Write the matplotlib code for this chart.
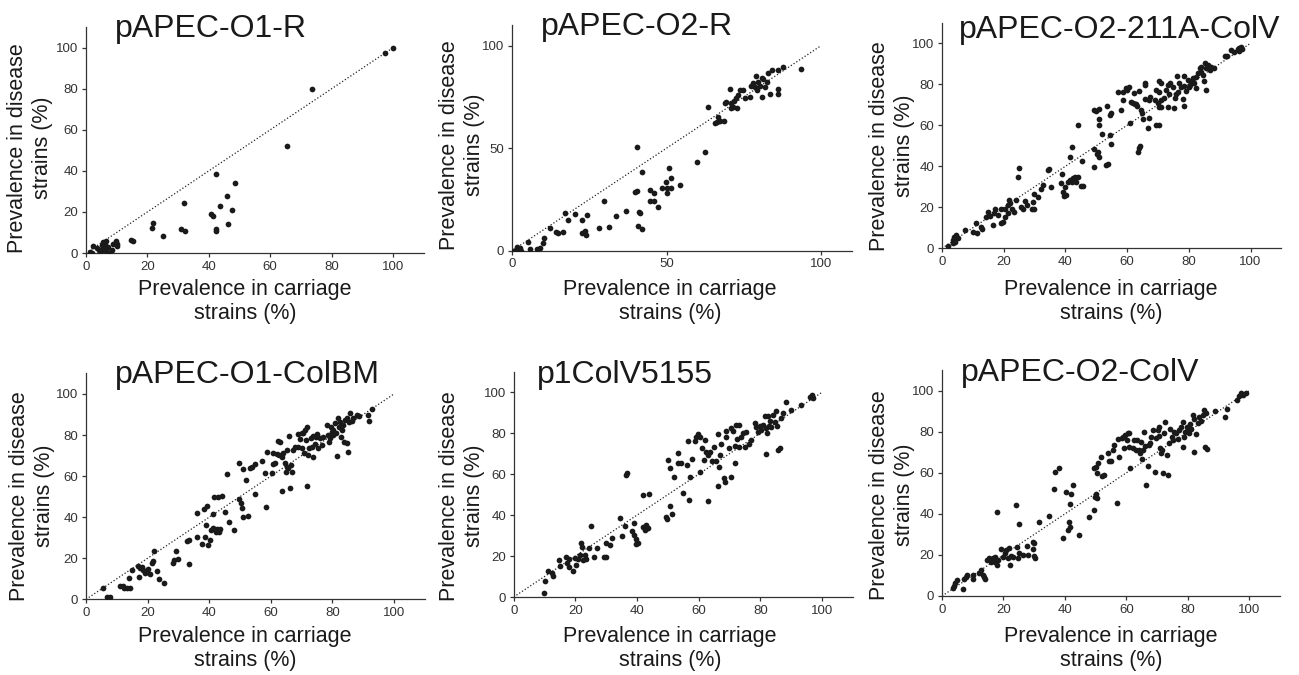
import numpy as np
import matplotlib
matplotlib.use("Agg")
import matplotlib.pyplot as plt

plt.rcParams['font.family'] = ['Liberation Sans', 'DejaVu Sans']

# (prevalence in carriage strains %, prevalence in disease strains %)
o1_r = [
    (100, 100), (97.3, 97.2), (73.6, 80), (65.5, 52), (42.3, 38.5), (31.9, 24.4),
    (48.5, 34.1), (46.0, 27.6), (43.8, 23.1), (47.6, 21.1), (40.7, 18.9), (41.4, 18.0),
    (42.3, 11.9), (42.3, 10.7), (46.4, 14.3), (31.1, 11.7), (32.4, 10.7), (21.9, 14.6),
    (21.6, 12.2), (25.2, 8.3), (14.5, 6.2), (15.4, 5.9), (1.3, 0.5), (2.4, 3.3),
    (3.5, 2.6), (1.8, 0), (4.3, 1.6), (5.1, 3.7), (5.6, 5.4), (6.5, 5.9), (5.9, 1.3),
    (6.7, 0.5), (7.6, 0), (8.4, 1.6), (8.9, 4.6), (9.8, 5.9), (10.0, 3.3), (10.2, 4.2),
    (4.6, 0.5), (5.4, 2.9), (7.3, 2.9), (6.2, 3.7),
]

o2_r = [
    (93.5, 88.6), (87.6, 89.6), (86.2, 88.0), (84.3, 88.1), (82.9, 86.5), (78.9, 85.2),
    (80.8, 84.4), (81.3, 83.6), (79.7, 82.4), (78.1, 81.6), (77.5, 80.3), (78.6, 79.7),
    (80.2, 80.3), (82.4, 82.4), (81.9, 79.7), (79.2, 78.4), (86.2, 78.7), (86.2, 76.4),
    (83.5, 76.3), (80.8, 75.0), (77.0, 75.0), (75.4, 74.3), (73.8, 78.4), (74.8, 78.4),
    (70.5, 78.7), (73.2, 75.9), (72.6, 74.3), (72.0, 73.2), (69.4, 72.7), (68.9, 72.2),
    (71.0, 71.9), (71.6, 70.2), (72.9, 69.4), (71.0, 69.4), (63.3, 70.2), (66.7, 65.4),
    (66.2, 62.9), (65.6, 62.4), (67.3, 63.4), (68.7, 63.3), (62.4, 48.0), (60.0, 43.3),
    (40.6, 50.7), (42.2, 38.4), (50.9, 40.5), (51.3, 35.3), (49.7, 33.7), (54.5, 32.2),
    (50.3, 30.4), (51.6, 30.4), (48.4, 30.4), (50.0, 28.3), (44.6, 29.6), (45.9, 28.0),
    (39.7, 28.5), (40.6, 28.9), (44.6, 24.1), (46.0, 24.1), (47.1, 21.1), (36.8, 19.3),
    (33.5, 16.9), (41.0, 18.9), (41.4, 18.2), (31.4, 11.7), (28.1, 11.2), (40.8, 12.2),
    (42.2, 10.7), (29.7, 24.1), (17.3, 18.2), (18.1, 15.0), (20.5, 17.7), (22.5, 15.0),
    (24.3, 17.4), (12.2, 10.9), (14.4, 8.9), (14.9, 8.5), (16.5, 8.9), (22.5, 8.5),
    (23.6, 9.6), (23.9, 7.6), (10.4, 6.0), (10.0, 3.6), (5.2, 4.4), (5.9, 0.8),
    (8.1, 0.7), (9.0, 1.5), (0.3, 0), (1.2, 0.3), (1.9, 0.7), (2.5, 1.1), (3.0, 0),
    (1.6, 2.0),
]

o2_211a_colv = [
    (1.8, 1.3), (3.7, 4.1), (4.0, 5.4), (4.5, 6.5), (5.1, 4.9), (3.7, 2.8), (4.3, 3.3),
    (7.6, 8.9), (9.9, 7.8), (11.0, 12.5), (11.2, 7.3), (12.6, 10.6), (12.9, 9.4),
    (14.3, 15.4), (14.8, 17.9), (15.4, 15.8), (16.4, 11.5), (17.0, 17.1), (17.3, 19.2),
    (18.1, 16.3), (19.1, 19.0), (19.1, 12.5), (19.9, 13.0), (20.5, 19.0), (20.5, 15.4),
    (21.3, 17.1), (21.3, 21.1), (21.8, 23.6), (22.2, 22.3), (22.7, 19.0), (23.5, 17.9),
    (24.9, 39.0), (24.5, 34.6), (24.0, 23.6), (25.6, 20.3), (26.2, 19.0), (27.0, 23.1),
    (27.6, 21.1), (29.1, 19.0), (29.7, 19.0), (29.4, 22.8), (29.7, 26.3), (31.0, 25.2),
    (32.1, 28.8), (32.9, 30.9), (34.3, 38.2), (34.8, 38.5), (35.4, 29.8), (38.9, 36.3),
    (38.6, 32.0), (39.3, 27.6), (39.7, 25.5), (40.2, 26.0), (40.0, 30.1), (40.8, 32.5),
    (41.5, 33.3), (42.2, 32.5), (43.0, 34.6), (42.4, 34.1), (43.5, 32.5), (44.2, 35.0),
    (45.1, 30.6), (45.8, 30.6), (41.6, 44.7), (42.0, 49.6), (44.0, 60.2), (45.4, 42.8),
    (49.4, 39.5), (49.4, 48.3), (50.3, 46.0), (50.8, 44.4), (50.5, 47.2), (49.4, 67.5),
    (49.9, 67.0), (51.0, 62.9), (51.0, 60.2), (50.8, 67.8), (51.9, 55.8), (53.2, 40.7),
    (53.9, 41.0), (53.4, 69.6), (54.3, 65.0), (54.8, 65.9), (54.5, 55.3), (54.8, 50.9),
    (57.0, 76.4), (58.1, 67.5), (58.6, 76.4), (58.8, 72.4), (59.5, 78.0), (59.9, 77.2),
    (60.5, 78.9), (60.8, 61.3), (61.3, 71.5), (61.8, 70.9), (62.4, 70.2), (62.9, 70.6),
    (63.1, 69.6), (62.2, 75.6), (63.8, 76.8), (63.5, 47.2), (64.0, 48.8), (64.3, 49.9),
    (64.5, 67.5), (64.9, 65.9), (65.7, 72.7), (65.9, 79.7), (65.9, 80.8), (65.1, 62.9),
    (66.7, 58.5), (67.0, 63.4), (67.0, 72.4), (67.5, 73.7), (68.9, 72.4), (69.4, 77.2),
    (70.0, 70.7), (70.5, 69.1), (69.4, 60.2), (70.5, 60.2), (70.5, 76.4), (70.5, 81.8),
    (71.0, 80.8), (71.0, 72.4), (71.0, 68.8), (72.1, 73.2), (72.6, 77.2), (73.2, 79.7),
    (73.7, 75.1), (73.2, 69.1), (74.0, 80.5), (74.8, 78.5), (75.1, 68.3), (75.4, 73.2),
    (75.9, 75.3), (76.2, 83.9), (76.5, 76.4), (76.8, 80.5), (77.5, 78.5), (78.1, 72.7),
    (78.3, 83.9), (78.6, 79.2), (79.1, 76.8), (79.7, 82.1), (80.0, 78.5), (80.4, 79.7),
    (80.8, 81.3), (81.3, 82.9), (81.8, 80.5), (82.2, 78.0), (78.6, 69.6), (81.3, 81.3),
    (82.4, 83.7), (82.9, 85.4), (83.5, 87.8), (84.0, 86.2), (84.5, 84.6), (84.8, 81.8),
    (85.1, 90.2), (85.6, 87.8), (86.2, 89.4), (86.8, 87.0), (87.2, 88.6), (88.3, 87.8),
    (84.0, 88.6), (91.6, 93.8), (92.3, 93.8), (93.7, 96.7), (94.8, 95.9), (95.9, 97.1),
    (96.4, 97.6), (97.0, 98.4), (96.2, 96.3), (97.3, 97.1), (85.6, 77.2),
]

o1_colbm = [
    (5.4, 5.5), (6.9, 1.3), (7.8, 1.3), (7.6, 0.8), (11.0, 6.7), (11.9, 6.5), (12.3, 5.4),
    (13.2, 5.4), (14.1, 10.2), (14.3, 5.4), (14.8, 14.3), (16.8, 16.2), (17.5, 15.1),
    (17.3, 11.0), (18.1, 15.6), (18.6, 14.3), (19.2, 12.7), (19.7, 13.5), (20.2, 14.6),
    (20.8, 12.2), (21.3, 17.9), (21.6, 18.8), (22.1, 23.7), (22.9, 13.8), (23.8, 9.7),
    (25.3, 8.1), (28.1, 17.9), (28.7, 19.2), (29.1, 23.5), (30.0, 19.5), (32.7, 28.4),
    (33.3, 28.9), (33.5, 17.2), (35.9, 30.5), (36.1, 41.9), (37.6, 26.9), (38.3, 44.2),
    (38.6, 30.2), (39.0, 36.2), (39.2, 45.5), (39.7, 26.5), (40.3, 28.9), (40.5, 33.8),
    (41.1, 41.6), (41.3, 34.6), (41.7, 50.0), (42.2, 33.0), (42.4, 34.3), (43.0, 50.0),
    (43.3, 33.0), (44.0, 50.5), (43.5, 34.3), (45.1, 42.7), (45.7, 60.9), (46.5, 37.8),
    (48.1, 33.8), (49.8, 66.6), (49.8, 48.7), (50.2, 47.1), (50.5, 44.6), (50.9, 63.3),
    (50.9, 40.3), (51.9, 58.1), (52.7, 40.6), (53.2, 63.8), (53.8, 64.6), (54.9, 65.9),
    (54.9, 51.1), (57.0, 67.5), (58.1, 61.7), (58.5, 45.1), (58.7, 71.6), (60.3, 61.4),
    (60.6, 65.7), (61.4, 66.6), (60.8, 71.1), (61.9, 70.6), (62.4, 77.1), (62.8, 70.1),
    (63.0, 76.5), (63.5, 69.2), (63.5, 52.8), (64.1, 71.1), (64.6, 66.6), (64.9, 62.2),
    (65.2, 64.6), (65.4, 72.7), (65.7, 63.8), (66.0, 79.5), (66.2, 54.4), (66.5, 65.4),
    (66.8, 62.2), (67.3, 72.7), (67.9, 74.4), (68.7, 74.4), (68.9, 80.5), (69.5, 77.9),
    (70.0, 81.2), (70.0, 73.5), (70.6, 80.8), (70.8, 71.1), (71.1, 82.6), (71.6, 55.4),
    (71.4, 77.6), (71.9, 83.8), (72.2, 70.3), (72.5, 73.5), (72.9, 78.4), (73.3, 74.4),
    (73.6, 69.2), (73.8, 79.5), (74.4, 75.8), (74.7, 79.2), (75.1, 80.5), (75.4, 73.5),
    (76.0, 78.4), (76.5, 75.2), (76.8, 79.2), (78.1, 84.9), (78.7, 80.0), (79.0, 76.8),
    (79.2, 78.4), (79.5, 83.8), (79.8, 81.7), (80.1, 80.0), (80.3, 82.5), (80.8, 85.7),
    (81.2, 80.8), (81.6, 69.8), (81.9, 88.1), (82.3, 84.1), (82.5, 86.5), (82.7, 79.2),
    (83.0, 82.5), (83.3, 84.9), (83.8, 76.8), (84.1, 87.3), (84.6, 88.1), (84.9, 76.0),
    (85.2, 71.9), (85.5, 86.5), (85.7, 90.9), (86.3, 87.0), (86.8, 88.1), (88.1, 89.7),
    (88.7, 89.3), (91.6, 89.7), (91.9, 87.0), (92.7, 92.5),
]

p1colv5155 = [
    (9.7, 1.8), (10.1, 8.0), (11.1, 12.7), (12.5, 11.6), (12.8, 10.3), (14.7, 18.1),
    (14.9, 15.3), (16.9, 19.7), (17.3, 16.8), (18.0, 14.8), (18.0, 18.4), (19.2, 12.7),
    (19.8, 18.9), (20.1, 15.5), (20.9, 18.4), (21.4, 20.5), (21.9, 26.2), (22.3, 24.3),
    (22.5, 18.1), (23.0, 20.5), (23.4, 18.4), (24.4, 23.8), (25.2, 34.9), (26.2, 19.7),
    (27.0, 23.8), (29.2, 19.4), (29.8, 19.7), (29.8, 26.5), (31.1, 25.4), (32.0, 29.0),
    (34.6, 38.4), (35.2, 29.8), (36.0, 34.9), (36.5, 59.6), (36.8, 60.7), (38.5, 32.4),
    (38.9, 36.3), (38.9, 30.3), (39.6, 28.2), (39.8, 25.9), (40.3, 26.5), (41.9, 49.8),
    (41.9, 34.4), (42.5, 32.7), (43.0, 35.2), (43.6, 33.6), (43.9, 50.2), (43.2, 33.6),
    (49.5, 39.3), (49.7, 37.9), (50.1, 66.9), (50.6, 62.9), (50.6, 44.6), (51.5, 40.6),
    (51.9, 58.5), (53.3, 70.2), (53.3, 65.6), (54.4, 65.6), (54.9, 51.0), (56.2, 64.5),
    (56.5, 76.4), (56.9, 47.4), (57.3, 58.5), (57.9, 67.3), (58.7, 76.4), (59.2, 78.3),
    (59.8, 79.6), (60.3, 61.2), (60.5, 78.3), (61.2, 72.6), (61.6, 66.9), (62.0, 76.7),
    (62.5, 71.0), (63.1, 69.4), (63.1, 46.9), (63.8, 71.0), (64.4, 66.6), (64.9, 73.1),
    (65.5, 66.6), (66.3, 54.2), (66.3, 79.6), (66.6, 63.7), (67.0, 69.4), (67.4, 74.8),
    (68.1, 58.0), (68.4, 56.4), (69.0, 81.3), (69.0, 78.3), (69.8, 72.6), (70.6, 58.8),
    (70.6, 82.4), (71.1, 81.3), (71.7, 65.6), (71.7, 73.9), (72.2, 84.0), (72.4, 77.0),
    (73.1, 84.0), (73.1, 73.1), (73.8, 78.3), (74.4, 80.0), (75.0, 73.1), (75.5, 80.8),
    (76.3, 74.8), (77.1, 76.7), (78.2, 84.9), (78.7, 82.9), (79.2, 80.8), (81.7, 70.0),
    (79.8, 83.6), (80.3, 81.6), (80.9, 84.0), (81.4, 88.4), (81.7, 82.4), (82.2, 80.0),
    (82.5, 88.4), (82.8, 83.6), (83.2, 86.2), (83.6, 83.2), (84.1, 88.9), (84.6, 85.7),
    (85.2, 91.0), (85.4, 83.6), (85.7, 71.8), (86.3, 72.6), (86.8, 87.3), (87.4, 90.1),
    (88.2, 95.4), (90.0, 91.4), (93.3, 93.8), (96.0, 97.9), (96.5, 97.6), (97.1, 97.1),
    (96.8, 98.9),
]

o2_colv = [
    (3.7, 3.7), (4.0, 4.9), (4.3, 6.5), (4.8, 7.8), (6.9, 3.2), (7.1, 8.1), (7.8, 9.4),
    (8.2, 10.2), (10.0, 8.1), (10.2, 10.2), (12.1, 11.4), (12.7, 12.7), (13.2, 10.2),
    (13.8, 9.1), (14.1, 8.1), (14.5, 17.5), (15.2, 18.3), (16.0, 16.7), (16.5, 18.3),
    (17.1, 19.2), (17.4, 16.7), (17.8, 15.1), (17.9, 41.1), (18.1, 17.5), (19.2, 22.7),
    (19.7, 19.2), (20.6, 20.8), (20.8, 22.4), (21.4, 18.3), (21.7, 23.2), (22.1, 15.1),
    (22.5, 19.5), (23.0, 18.8), (24.1, 44.3), (24.3, 24.0), (24.6, 18.3), (24.9, 35.1),
    (25.2, 20.8), (26.2, 20.0), (27.5, 24.4), (27.9, 20.0), (29.5, 26.5), (29.7, 22.7),
    (30.0, 19.5), (30.4, 18.3), (30.0, 25.6), (31.5, 36.2), (34.9, 39.0), (36.6, 51.9),
    (36.9, 60.6), (38.2, 62.2), (39.5, 28.4), (40.3, 50.8), (40.9, 32.1), (41.4, 36.2),
    (41.6, 33.4), (41.6, 44.8), (42.0, 49.7), (42.5, 54.1), (44.5, 29.7), (47.7, 38.6),
    (49.5, 41.9), (49.8, 48.4), (50.2, 49.7), (50.5, 47.6), (49.6, 62.2), (50.1, 63.0),
    (50.3, 59.7), (50.9, 64.6), (51.7, 67.5), (52.1, 58.4), (52.8, 58.8), (53.9, 69.5),
    (54.4, 65.9), (55.0, 65.9), (55.5, 71.1), (56.1, 73.5), (56.8, 45.5), (57.2, 76.3),
    (57.7, 67.9), (58.6, 76.8), (59.0, 77.3), (59.3, 71.9), (59.7, 78.6), (60.1, 76.0),
    (60.4, 79.4), (60.7, 79.5), (60.9, 72.4), (61.2, 62.5), (62.0, 71.9), (62.6, 76.0),
    (63.1, 71.1), (63.3, 76.0), (64.0, 71.1), (64.4, 69.5), (64.8, 75.2), (65.1, 66.6),
    (65.5, 71.1), (65.8, 80.0), (66.2, 73.1), (66.4, 54.1), (67.0, 63.3), (67.2, 73.5),
    (67.7, 74.4), (68.0, 77.6), (68.8, 80.8), (69.4, 60.6), (69.6, 76.8), (70.2, 80.8),
    (70.5, 82.1), (70.7, 77.9), (71.0, 71.9), (71.3, 69.5), (71.6, 71.1), (71.8, 59.7),
    (72.3, 79.2), (72.7, 84.9), (73.1, 68.7), (73.4, 58.9), (74.0, 74.4), (74.2, 81.2),
    (74.8, 77.6), (75.3, 76.0), (75.6, 80.0), (76.1, 79.5), (76.7, 76.3), (77.2, 80.8),
    (77.8, 82.1), (78.3, 72.7), (78.5, 84.9), (78.9, 77.6), (79.2, 80.0), (79.6, 82.5),
    (79.9, 81.2), (80.3, 79.2), (80.7, 83.8), (81.0, 81.2), (81.6, 88.1), (82.1, 86.0),
    (82.1, 70.3), (82.6, 78.9), (83.2, 84.1), (83.7, 87.0), (84.3, 85.4), (84.8, 88.1),
    (85.4, 90.6), (85.7, 72.4), (85.9, 89.3), (86.1, 71.4), (89.0, 90.3), (92.2, 87.0),
    (92.6, 91.2), (95.9, 95.5), (96.7, 97.4), (97.3, 98.7), (97.8, 97.9), (98.9, 99.0),
]

titles = ["pAPEC-O1-R", "pAPEC-O2-R", "pAPEC-O2-211A-ColV",
          "pAPEC-O1-ColBM", "p1ColV5155", "pAPEC-O2-ColV"]
panels = [o1_r, o2_r, o2_211a_colv, o1_colbm, p1colv5155, o2_colv]
tick_sets = [[0, 20, 40, 60, 80, 100], [0, 50, 100], [0, 20, 40, 60, 80, 100],
             [0, 20, 40, 60, 80, 100], [0, 20, 40, 60, 80, 100], [0, 20, 40, 60, 80, 100]]

W, H = 1299, 675
# pixel layout: x at 0, x at 100, y at 0, y at 100, title left/baseline,
# ylabel centre, xlabel centre/top
layout = [
    (86, 393, 253, 47.7, 115, 37, 30, 148, 245, 279),
    (512, 821, 250.7, 45.7, 541, 35, 462, 145, 670, 279),
    (942, 1250.5, 248.3, 43.3, 959, 38, 892, 146, 1111, 279),
    (86, 394, 599.3, 394, 115, 383, 32, 496, 245, 626),
    (513.7, 822, 597, 392.3, 537, 383, 462, 496, 670, 626),
    (942, 1249.3, 596, 390.7, 961, 381, 892, 495, 1111, 626),
]

fig = plt.figure(figsize=(W / 100, H / 100), dpi=100)
ink = '#1a1a1a'

for pts, title, ticks, lay in zip(panels, titles, tick_sets, layout):
    x0, x100, y0, y100, tx, tb, ylx, yly, xlx, xlt = lay
    w = (x100 - x0) * 1.1
    h = (y0 - y100) * 1.1
    ax = fig.add_axes([x0 / W, 1 - y0 / H, w / W, h / H])
    xy = np.array(pts)
    ax.plot([0, 100], [0, 100], ls=':', lw=0.9, color='#222222', zorder=2)
    ax.scatter(xy[:, 0], xy[:, 1], s=17, color=ink, linewidths=0, zorder=3)
    ax.set_xlim(0, 110)
    ax.set_ylim(0, 110)
    ax.set_xticks(ticks)
    ax.set_yticks(ticks)
    for side in ['top', 'right']:
        ax.spines[side].set_visible(False)
    for side in ['left', 'bottom']:
        ax.spines[side].set_linewidth(0.9)
        ax.spines[side].set_color('#333333')
    ax.tick_params(direction='out', length=3, width=0.9, labelsize=9.5,
                   colors='#333333', pad=2.5)

    fig.text(tx / W, 1 - tb / H, title, fontsize=23, ha='left', va='baseline', color=ink)
    fig.text(xlx / W, 1 - xlt / H, 'Prevalence in carriage\nstrains (%)', fontsize=15.5,
             ha='center', va='top', multialignment='center', color=ink)
    fig.text(ylx / W, 1 - yly / H, 'Prevalence in disease\nstrains (%)', fontsize=15.5,
             rotation=90, ha='center', va='center', multialignment='center', color=ink)

fig.savefig('out.png', dpi=100)
